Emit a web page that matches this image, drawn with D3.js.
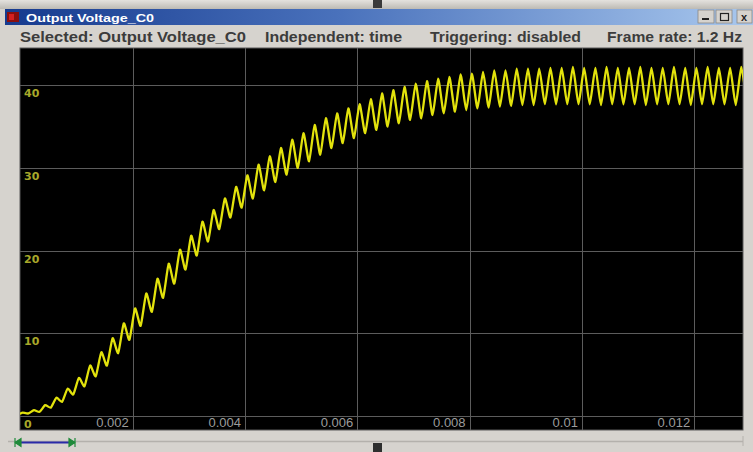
<!DOCTYPE html>
<html>
<head>
<meta charset="utf-8">
<script src="https://cdn.jsdelivr.net/npm/d3@7"></script>
<style>
  html, body { margin: 0; padding: 0; background: #d6d3ce; }
  svg { display: block; }
</style>
</head>
<body>
<svg id="scope" width="753" height="452"></svg>
<script>
// ---- data -------------------------------------------------------------
const windowTitle = "Output Voltage_C0";
const statusItems = ["Selected: Output Voltage_C0", "Independent: time", "Triggering: disabled", "Frame rate: 1.2 Hz"];
const timeTicks = [0.002, 0.004, 0.006, 0.008, 0.01, 0.012];
const timeTickLabels = ["0.002", "0.004", "0.006", "0.008", "0.01", "0.012"];
const voltTicks = [0, 10, 20, 30, 40];

// ripple crests (time in ms, volts)
const highTimesMs = [0.04, 0.24, 0.44, 0.64, 0.84, 1.04, 1.24, 1.44, 1.64, 1.84,
  2.04, 2.24, 2.44, 2.64, 2.84, 3.04, 3.24, 3.44, 3.64, 3.84,
  4.04, 4.24, 4.44, 4.64, 4.84, 5.04, 5.24, 5.44, 5.64, 5.84,
  6.04, 6.24, 6.44, 6.64, 6.84, 7.04, 7.24, 7.44, 7.64, 7.84,
  8.04, 8.24, 8.44, 8.64, 8.84, 9.04, 9.24, 9.44, 9.64, 9.84,
  10.04, 10.24, 10.44, 10.64, 10.84, 11.04, 11.24, 11.44, 11.64, 11.84,
  12.04, 12.24, 12.44, 12.64, 12.84];
const highVolts = [0.4, 0.7, 1.3, 2.2, 3.3, 4.6, 6.1, 7.7, 9.4, 11.2,
  13.0, 14.8, 16.6, 18.4, 20.1, 21.8, 23.5, 24.9, 26.3, 27.7,
  29.1, 30.4, 31.4, 32.4, 33.4, 34.2, 35.2, 36.0, 36.6, 37.2,
  37.7, 38.3, 39.0, 39.4, 39.8, 40.2, 40.5, 40.8, 41.0, 41.3,
  41.4, 41.6, 41.8, 41.8, 42.0, 42.0, 42.0, 42.1, 42.1, 42.2,
  42.1, 42.1, 42.2, 42.1, 42.1, 42.2, 42.1, 42.1, 42.2, 42.1,
  42.1, 42.2, 42.1, 42.1, 42.2];

// ripple valleys (time in ms, volts), starting from the rest level at t = 0
const lowTimesMs = [0, 0.14, 0.34, 0.54, 0.74, 0.94, 1.14, 1.34, 1.54, 1.74, 1.94,
  2.14, 2.34, 2.54, 2.74, 2.94, 3.14, 3.34, 3.54, 3.74, 3.94,
  4.14, 4.34, 4.54, 4.74, 4.94, 5.14, 5.34, 5.54, 5.74, 5.94,
  6.14, 6.34, 6.54, 6.74, 6.94, 7.14, 7.34, 7.54, 7.74, 7.94,
  8.14, 8.34, 8.54, 8.74, 8.94, 9.14, 9.34, 9.54, 9.74, 9.94,
  10.14, 10.34, 10.54, 10.74, 10.94, 11.14, 11.34, 11.54, 11.74, 11.94,
  12.14, 12.34, 12.54, 12.74, 12.94];
const lowVolts = [0.3, 0.3, 0.5, 1.0, 1.7, 2.6, 3.6, 4.8, 6.1, 7.6, 9.2,
  10.9, 12.6, 14.3, 16.0, 17.7, 19.4, 21.1, 22.6, 24.0, 25.2,
  26.3, 27.3, 28.3, 29.2, 30.0, 30.8, 31.6, 32.4, 33.0, 33.6,
  34.2, 34.6, 35.0, 35.4, 35.8, 36.0, 36.4, 36.6, 36.8, 37.0,
  37.2, 37.3, 37.4, 37.5, 37.6, 37.6, 37.7, 37.7, 37.7, 37.7,
  37.7, 37.6, 37.7, 37.7, 37.7, 37.6, 37.7, 37.7, 37.7, 37.6,
  37.7, 37.7, 37.7, 37.6, 37.7];

// ---- drawing ----------------------------------------------------------
const W = 753, H = 452;
const plot = { left: 20, right: 743, top: 48, bottom: 430 };
const svg = d3.select("#scope");
const defs = svg.append("defs");
const sans = "Liberation Sans, Arial, sans-serif";

// window chrome
svg.append("rect").attr("x", 0).attr("y", 0).attr("width", W).attr("height", H).attr("fill", "#d6d3ce");
const topGrad = defs.append("linearGradient").attr("id", "topStrip").attr("x1", 0).attr("y1", 0).attr("x2", 0).attr("y2", 1);
topGrad.append("stop").attr("offset", 0).attr("stop-color", "#e4e2de");
topGrad.append("stop").attr("offset", 1).attr("stop-color", "#bdbab4");
svg.append("rect").attr("x", 0).attr("y", 0).attr("width", W).attr("height", 9).attr("fill", "url(#topStrip)");
svg.append("rect").attr("x", 373).attr("y", 0).attr("width", 9).attr("height", 8).attr("fill", "#3a3a3a");

const titleGrad = defs.append("linearGradient").attr("id", "titleBar").attr("x1", 0).attr("y1", 0).attr("x2", 1).attr("y2", 0);
titleGrad.append("stop").attr("offset", 0).attr("stop-color", "#163a8e");
titleGrad.append("stop").attr("offset", 0.45).attr("stop-color", "#4a72bc");
titleGrad.append("stop").attr("offset", 1).attr("stop-color", "#a9c8ee");
svg.append("rect").attr("x", 5).attr("y", 9).attr("width", W - 5).attr("height", 16).attr("fill", "url(#titleBar)");
svg.append("rect").attr("x", 7).attr("y", 12).attr("width", 12).attr("height", 10).attr("fill", "#8a0e0e");
svg.append("rect").attr("x", 9).attr("y", 14).attr("width", 5).attr("height", 6).attr("fill", "#d42020");
svg.append("text").attr("x", 26).attr("y", 21.5)
  .attr("font-family", sans).attr("font-size", 11).attr("font-weight", "bold")
  .attr("textLength", 128).attr("lengthAdjust", "spacingAndGlyphs")
  .attr("fill", "#ffffff").text(windowTitle);

// window buttons
const btnX = [698, 716, 737];
const btn = svg.append("g");
btnX.forEach((bx, i) => {
  btn.append("rect").attr("x", bx).attr("y", 10).attr("width", i === 2 ? 15 : 16).attr("height", 13)
    .attr("fill", "#d6d3ce").attr("stroke", "#8a8884").attr("stroke-width", 0.8);
});
btn.append("rect").attr("x", 702).attr("y", 18).attr("width", 7).attr("height", 2).attr("fill", "#222");
btn.append("rect").attr("x", 720.5).attr("y", 13.5).attr("width", 8).attr("height", 7).attr("fill", "none").attr("stroke", "#222").attr("stroke-width", 1.2);
btn.append("text").attr("x", 744).attr("y", 20.5).attr("text-anchor", "middle")
  .attr("font-family", sans).attr("font-size", 11).attr("font-weight", "bold").attr("fill", "#222").text("x");

// status line
const statusX = [20, 265, 430, 607];
const statusW = [226, 137, 151, 135];
svg.append("g").selectAll("text").data(statusItems).join("text")
  .attr("x", (d, i) => statusX[i]).attr("y", 42)
  .attr("font-family", sans).attr("font-size", 14).attr("font-weight", "bold")
  .attr("textLength", (d, i) => statusW[i]).attr("lengthAdjust", "spacingAndGlyphs")
  .attr("fill", "#3c3c3c").text(d => d);

// scope screen
svg.append("rect").attr("x", plot.left).attr("y", plot.top)
  .attr("width", plot.right - plot.left).attr("height", plot.bottom - plot.top)
  .attr("fill", "#000").attr("stroke", "#5a5a5a").attr("stroke-width", 1);

const x = d3.scaleLinear().domain([0, 0.01287]).range([plot.left + 0.5, plot.right]);
const y = d3.scaleLinear().domain([-1.7, 44.5]).range([plot.bottom, plot.top]);

defs.append("clipPath").attr("id", "screenClip").append("rect")
  .attr("x", plot.left).attr("y", plot.top).attr("width", plot.right - plot.left).attr("height", plot.bottom - plot.top);

const grid = svg.append("g").attr("clip-path", "url(#screenClip)");
grid.selectAll("line.v").data(timeTicks).join("line").attr("class", "v")
  .attr("x1", d => Math.round(x(d)) + 0.5).attr("x2", d => Math.round(x(d)) + 0.5)
  .attr("y1", plot.top).attr("y2", plot.bottom)
  .attr("stroke", "#5c5c5c").attr("stroke-width", 1);
grid.selectAll("line.h").data(voltTicks).join("line").attr("class", "h")
  .attr("x1", plot.left).attr("x2", plot.right)
  .attr("y1", d => Math.round(y(d)) + 0.5).attr("y2", d => Math.round(y(d)) + 0.5)
  .attr("stroke", "#5c5c5c").attr("stroke-width", 1);

// tick labels inside the screen
svg.append("g").selectAll("text").data(voltTicks).join("text")
  .attr("x", plot.left + 4).attr("y", d => y(d) + 12)
  .attr("font-family", "DejaVu Sans, sans-serif").attr("font-size", 11).attr("font-weight", "bold")
  .attr("fill", "#a8a82a").text(d => d);
svg.append("g").selectAll("text").data(timeTicks).join("text")
  .attr("x", d => x(d) - 4).attr("y", 427).attr("text-anchor", "end")
  .attr("font-family", sans).attr("font-size", 13)
  .attr("fill", "#9c9c9c").text((d, i) => timeTickLabels[i]);

// trace: merge crests and valleys in time order
const samples = highTimesMs.map((t, i) => ({ t: t / 1000, v: highVolts[i] }))
  .concat(lowTimesMs.map((t, i) => ({ t: t / 1000, v: lowVolts[i] })))
  .sort((a, b) => a.t - b.t);
const trace = d3.line().x(d => x(d.t)).y(d => y(d.v)).curve(d3.curveCardinal.tension(0.45));
svg.append("g").attr("clip-path", "url(#screenClip)").append("path")
  .datum(samples).attr("d", trace)
  .attr("fill", "none").attr("stroke", "#e2e20c").attr("stroke-width", 2.3)
  .attr("stroke-linejoin", "round").attr("stroke-linecap", "round");

// time-window slider below the screen
svg.append("line").attr("x1", 8).attr("x2", plot.right).attr("y1", 441.5).attr("y2", 441.5)
  .attr("stroke", "#b4b1ac").attr("stroke-width", 1.5);
svg.append("line").attr("x1", plot.right).attr("x2", plot.right).attr("y1", 436).attr("y2", 446)
  .attr("stroke", "#b4b1ac").attr("stroke-width", 1);
svg.append("line").attr("x1", 16).attr("x2", 74).attr("y1", 442.5).attr("y2", 442.5)
  .attr("stroke", "#2a2aa8").attr("stroke-width", 2);
svg.append("path").attr("d", "M15,438 L15,447 M15,442.5 L21,438.5 L21,446.5 Z")
  .attr("fill", "#1f8a3a").attr("stroke", "#1f8a3a").attr("stroke-width", 1.2);
svg.append("path").attr("d", "M75,438 L75,447 M75,442.5 L69,438.5 L69,446.5 Z")
  .attr("fill", "#1f8a3a").attr("stroke", "#1f8a3a").attr("stroke-width", 1.2);
svg.append("rect").attr("x", 373).attr("y", 443).attr("width", 9).attr("height", 9).attr("fill", "#2e2e2e");
</script>
</body>
</html>
